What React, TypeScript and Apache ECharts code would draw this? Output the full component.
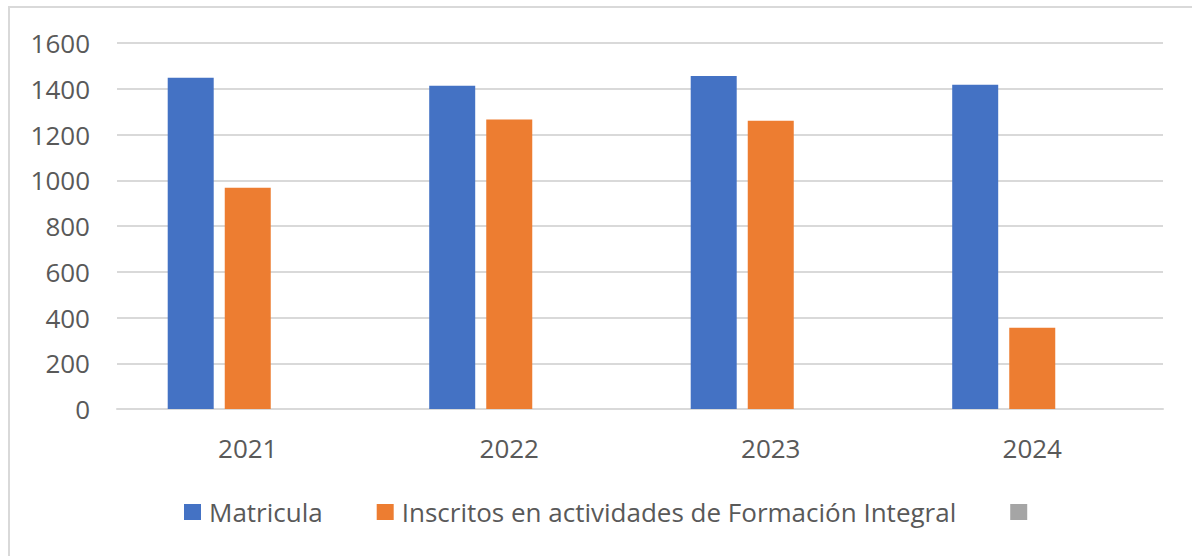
import React, { useEffect, useRef } from "react";
import * as echarts from "echarts";

const categories = ["2021", "2022", "2023", "2024"];
const matricula = [1448, 1413, 1456, 1418];
const inscritos = [967, 1266, 1260, 355];
const tercera: (number | null)[] = [null, null, null, null];
const seriesNames = ["Matricula", "Inscritos en actividades de Formación Integral", " "];
const yTicks = { min: 0, max: 1600, interval: 200 };

export default function App() {
  const ref = useRef<HTMLDivElement>(null);
  useEffect(() => {
    if (!ref.current) return;
    const chart = echarts.init(ref.current, undefined, { renderer: "svg" });
    const font = "'Open Sans', 'Noto Sans', sans-serif";
    chart.setOption({
      animation: false,
      backgroundColor: "#ffffff",
      textStyle: { fontFamily: font },
      graphic: [
        {
          type: "rect",
          shape: { x: 9, y: 7, width: 1220, height: 600 },
          style: { fill: "none", stroke: "#d9d9d9", lineWidth: 2 },
          silent: true,
          z: -1,
        },
      ],
      grid: { left: 117, right: 29, top: 43, bottom: 147, containLabel: false },
      legend: {
        data: seriesNames,
        left: 184,
        top: 499,
        padding: 0,
        itemWidth: 17,
        itemHeight: 16,
        itemGap: 54,
        icon: "rect",
        textStyle: { fontFamily: font, fontSize: 26, color: "#595959", padding: [0, 0, 0, 3] },
      },
      xAxis: {
        type: "category",
        data: categories,
        axisTick: { show: false },
        axisLine: { lineStyle: { color: "#d9d9d9", width: 2 } },
        axisLabel: { fontFamily: font, fontSize: 26, color: "#595959", margin: 26 },
      },
      yAxis: {
        type: "value",
        min: yTicks.min,
        max: yTicks.max,
        interval: yTicks.interval,
        axisLine: { show: false },
        axisTick: { show: false },
        axisLabel: {
          fontFamily: font,
          fontSize: 26,
          color: "#595959",
          margin: 27,
          formatter: (v: number) => String(v),
        },
        splitLine: { lineStyle: { color: "#d9d9d9", width: 2 } },
      },
      series: [
        { name: seriesNames[0], type: "bar", data: matricula, barWidth: 46, barGap: "24%", itemStyle: { color: "#4472C4" } },
        { name: seriesNames[1], type: "bar", data: inscritos, barWidth: 46, barGap: "24%", itemStyle: { color: "#ED7D31" } },
        { name: seriesNames[2], type: "bar", data: tercera, barWidth: 46, barGap: "24%", itemStyle: { color: "#A5A5A5" } },
      ],
    });
    return () => chart.dispose();
  }, []);
  return (
    <div
      ref={ref}
      style={{ position: "absolute", left: 0, top: 0, width: 1192, height: 556 }}
    />
  );
}
